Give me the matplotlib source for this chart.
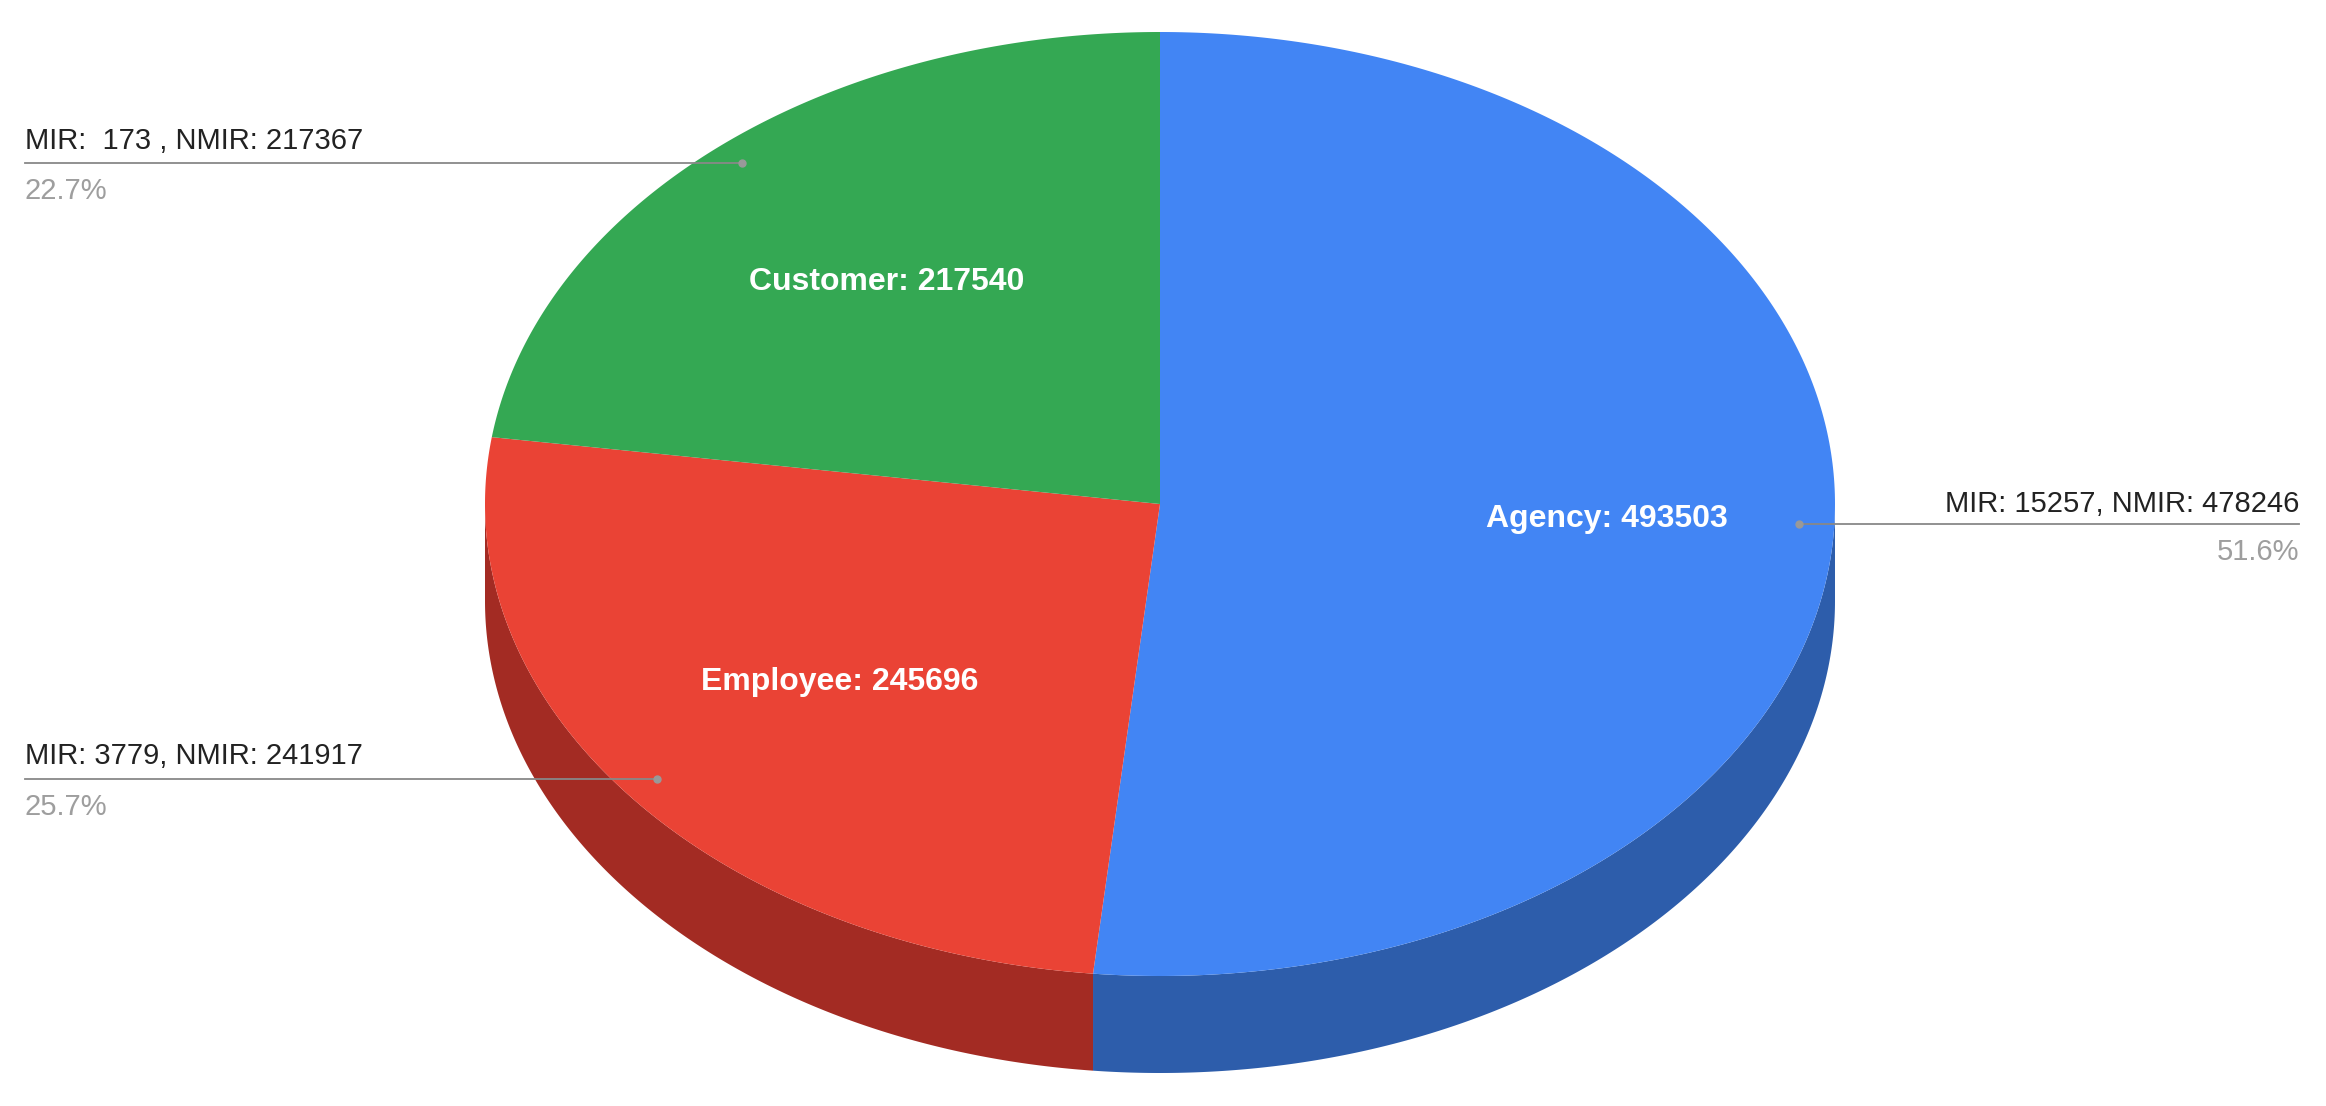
import numpy as np
import matplotlib
matplotlib.use("Agg")
import matplotlib.pyplot as plt
from matplotlib.patches import Polygon

categories = ["Agency", "Employee", "Customer"]
values = [493503, 245696, 217540]
mir = [15257, 3779, 173]
nmir = [478246, 241917, 217367]
outer_labels = ["MIR: 15257, NMIR: 478246", "MIR: 3779, NMIR: 241917", "MIR:  173 , NMIR: 217367"]
colors = ["#4285f4", "#ea4335", "#34a853"]
side_colors = ["#2d5dab", "#a32b23", "#23753a"]

plt.rcParams['font.family'] = ['Liberation Sans', 'DejaVu Sans']
W, H = 2326, 1106
fig = plt.figure(figsize=(W/100, H/100), dpi=100)
ax = fig.add_axes([0, 0, 1, 1])
ax.set_xlim(0, W); ax.set_ylim(H, 0); ax.axis('off')

cx, cy, rx, ry, depth = 1160, 504, 675, 472, 97
def pt(t, dy=0):
    return cx + rx*np.sin(t), cy - ry*np.cos(t) + dy

total = sum(values)
fracs = np.array(values)/total
bounds = np.concatenate([[0], np.cumsum(fracs)])*2*np.pi

# side walls
for i in range(len(values)):
    a, b = max(bounds[i], np.pi/2), min(bounds[i+1], 3*np.pi/2)
    if b <= a: continue
    t = np.linspace(a, b, 200)
    x, y = pt(t)
    x2, y2 = pt(t[::-1], depth)
    ax.add_patch(Polygon(np.column_stack([np.r_[x, x2], np.r_[y, y2]]), color=side_colors[i], lw=0))

# tops
for i in range(len(values)):
    t = np.linspace(bounds[i], bounds[i+1], 300)
    x, y = pt(t)
    ax.add_patch(Polygon(np.column_stack([np.r_[cx, x], np.r_[cy, y]]), color=colors[i], lw=0))

inner_pos = [(1607, 519), (840, 682), (887, 282)]
for i, (x, y) in enumerate(inner_pos):
    ax.text(x, y, f"{categories[i]}: {values[i]}", color="white", fontsize=23,
            fontweight="bold", ha="center", va="center")

# outer labels: (text x, text y, line y, line x0, line x1, align)
outer = [(2299, 504, 524, 1799, 2299, "right"),
         (25, 756, 779, 25, 657, "left"),
         (25, 141, 163, 25, 742, "left")]
for i, (tx, ty, ly, x0, x1, ha) in enumerate(outer):
    ax.text(tx, ty, outer_labels[i], fontsize=21, ha=ha, va="center", color="#222222")
    ax.plot([x0, x1], [ly, ly], color="#888888", lw=1.3)
    dx = x0 if ha == "right" else x1
    ax.plot([dx], [ly], "o", color="#999999", ms=5)
    ax.text(tx, ly + 28, f"{fracs[i]*100:.1f}%", fontsize=21, ha=ha, va="center", color="#9e9e9e")

fig.savefig("out.png", dpi=100)
